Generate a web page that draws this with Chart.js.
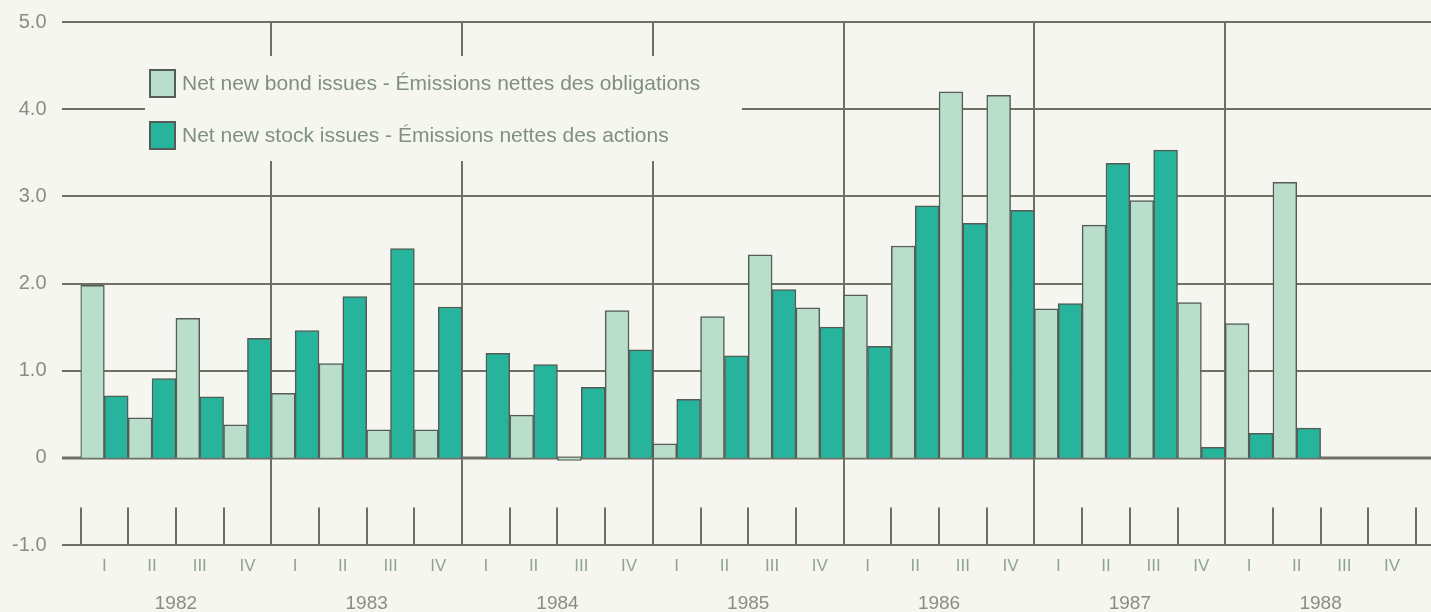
<!DOCTYPE html>
<html>
<head>
<meta charset="utf-8">
<script src="https://cdn.jsdelivr.net/npm/chart.js@4.4.1/dist/chart.umd.min.js"></script>
<style>
  html, body { margin: 0; padding: 0; background: #f6f6f1; overflow: hidden; }
  canvas { display: block; }
</style>
</head>
<body>
<canvas id="chart" width="1431" height="612"></canvas>
<script>
// ---- Data ----
const categories = [
  '1982 I','1982 II','1982 III','1982 IV',
  '1983 I','1983 II','1983 III','1983 IV',
  '1984 I','1984 II','1984 III','1984 IV',
  '1985 I','1985 II','1985 III','1985 IV',
  '1986 I','1986 II','1986 III','1986 IV',
  '1987 I','1987 II','1987 III','1987 IV',
  '1988 I','1988 II','1988 III','1988 IV'
];
const quarterLabels = ['I', 'II', 'III', 'IV'];
const yearLabels = ['1982', '1983', '1984', '1985', '1986', '1987', '1988'];
const yTickLabels = ['-1.0', '0', '1.0', '2.0', '3.0', '4.0', '5.0'];

const bondIssues = [
  1.98, 0.46, 1.60, 0.38,
  0.74, 1.08, 0.32, 0.32,
  0.00, 0.49, -0.03, 1.69,
  0.16, 1.62, 2.33, 1.72,
  1.87, 2.43, 4.20, 4.16,
  1.71, 2.67, 2.95, 1.78,
  1.54, 3.16, null, null
];
const stockIssues = [
  0.71, 0.91, 0.70, 1.37,
  1.46, 1.85, 2.40, 1.73,
  1.20, 1.07, 0.81, 1.24,
  0.67, 1.17, 1.93, 1.50,
  1.28, 2.89, 2.69, 2.84,
  1.77, 3.38, 3.53, 0.12,
  0.28, 0.34, null, null
];
const seriesNames = [
  'Net new bond issues - Émissions nettes des obligations',
  'Net new stock issues - Émissions nettes des actions'
];

// ---- Styles ----
const BG = '#f6f6f1';
const GRID = '#6e6f67';
const BOND = '#b9dfcc';
const STOCK = '#27b49c';
const EDGE = '#555c55';
const TEXT = '#8a8d84';
const LEGEND_TEXT = '#7f8f80';
const FONT = '"Liberation Sans", Arial, Helvetica, sans-serif';

const framePlugin = {
  id: 'frame',
  beforeDraw(chart) {
    const { ctx, width, height } = chart;
    ctx.save();
    ctx.fillStyle = BG;
    ctx.fillRect(0, 0, width, height);
    ctx.restore();
  },
  beforeDatasetsDraw(chart) {
    const { ctx, width, scales: { x, y } } = chart;
    const n = categories.length;
    const step = x.getPixelForValue(1) - x.getPixelForValue(0);
    const bnd = j => x.getPixelForValue(0) - step / 2 + j * step;
    const yMin = y.getPixelForValue(-1);
    const yMax = y.getPixelForValue(5);
    ctx.save();
    ctx.strokeStyle = GRID;
    ctx.lineCap = 'butt';
    // horizontal lines
    for (let v = -1; v <= 5; v++) {
      const py = Math.round(y.getPixelForValue(v));
      ctx.lineWidth = v === 0 ? 3 : 2;
      ctx.beginPath(); ctx.moveTo(62, py); ctx.lineTo(width, py); ctx.stroke();
    }
    ctx.lineWidth = 2;
    // year separators and quarter ticks
    for (let j = 0; j <= n; j++) {
      const px = Math.round(bnd(j));
      ctx.beginPath();
      if (j % 4 === 0 && j > 0 && j < n) {
        ctx.moveTo(px, yMax); ctx.lineTo(px, yMin);
      } else {
        ctx.moveTo(px, yMin); ctx.lineTo(px, y.getPixelForValue(-0.57));
      }
      ctx.stroke();
    }
    // legend panel
    ctx.fillStyle = BG;
    ctx.fillRect(145, 56, 597, 105);
    const sw = [[BOND, 83], [STOCK, 135]];
    ctx.lineWidth = 2;
    sw.forEach(([c, cy], i) => {
      ctx.fillStyle = c;
      ctx.fillRect(150, cy - 13, 25, 27);
      ctx.strokeStyle = EDGE;
      ctx.strokeRect(150, cy - 13, 25, 27);
      ctx.fillStyle = LEGEND_TEXT;
      ctx.font = '21px ' + FONT;
      ctx.textBaseline = 'middle';
      ctx.textAlign = 'left';
      ctx.fillText(seriesNames[i], 182, cy + 1);
    });
    ctx.restore();
  }
};

new Chart(document.getElementById('chart'), {
  type: 'bar',
  data: {
    labels: categories,
    datasets: [
      { label: seriesNames[0], data: bondIssues, backgroundColor: BOND, borderColor: EDGE, borderWidth: 1.5,
        barPercentage: 1, categoryPercentage: 1, xAxisID: 'x' },
      { label: seriesNames[1], data: stockIssues, backgroundColor: STOCK, borderColor: EDGE, borderWidth: 1.5,
        barPercentage: 1, categoryPercentage: 1, xAxisID: 'x' }
    ]
  },
  options: {
    responsive: false,
    animation: false,
    devicePixelRatio: 1,
    layout: { padding: { top: 22, right: 15, bottom: 0, left: 0 } },
    plugins: { legend: { display: false }, tooltip: { enabled: false } },
    scales: {
      x: {
        type: 'category',
        position: 'bottom',
        weight: 0,
        offset: true,
        grid: { display: false, drawTicks: false },
        border: { display: false },
        ticks: {
          autoSkip: false, maxRotation: 0, padding: 11,
          color: '#8fa393', font: { family: FONT, size: 17 },
          callback: (v, i) => quarterLabels[i % 4]
        },
        afterFit: s => { s.height = 30; s.paddingLeft = 0; s.paddingRight = 0; }
      },
      x2: {
        type: 'category',
        position: 'bottom',
        weight: 1,
        labels: yearLabels,
        offset: true,
        grid: { display: false, drawTicks: false },
        border: { display: false },
        ticks: { autoSkip: false, maxRotation: 0, padding: 17, color: TEXT, font: { family: FONT, size: 19 } },
        afterFit: s => { s.height = 37; s.paddingLeft = 0; s.paddingRight = 0; }
      },
      y: {
        min: -1, max: 5,
        grid: { display: false, drawTicks: false },
        border: { display: false },
        ticks: {
          stepSize: 1, padding: 34, color: TEXT, font: { family: FONT, size: 20 },
          callback: v => yTickLabels[v + 1]
        },
        afterFit: s => { s.width = 80.5; s.paddingTop = 0; s.paddingBottom = 0; }
      }
    }
  },
  plugins: [framePlugin]
});
</script>
</body>
</html>
